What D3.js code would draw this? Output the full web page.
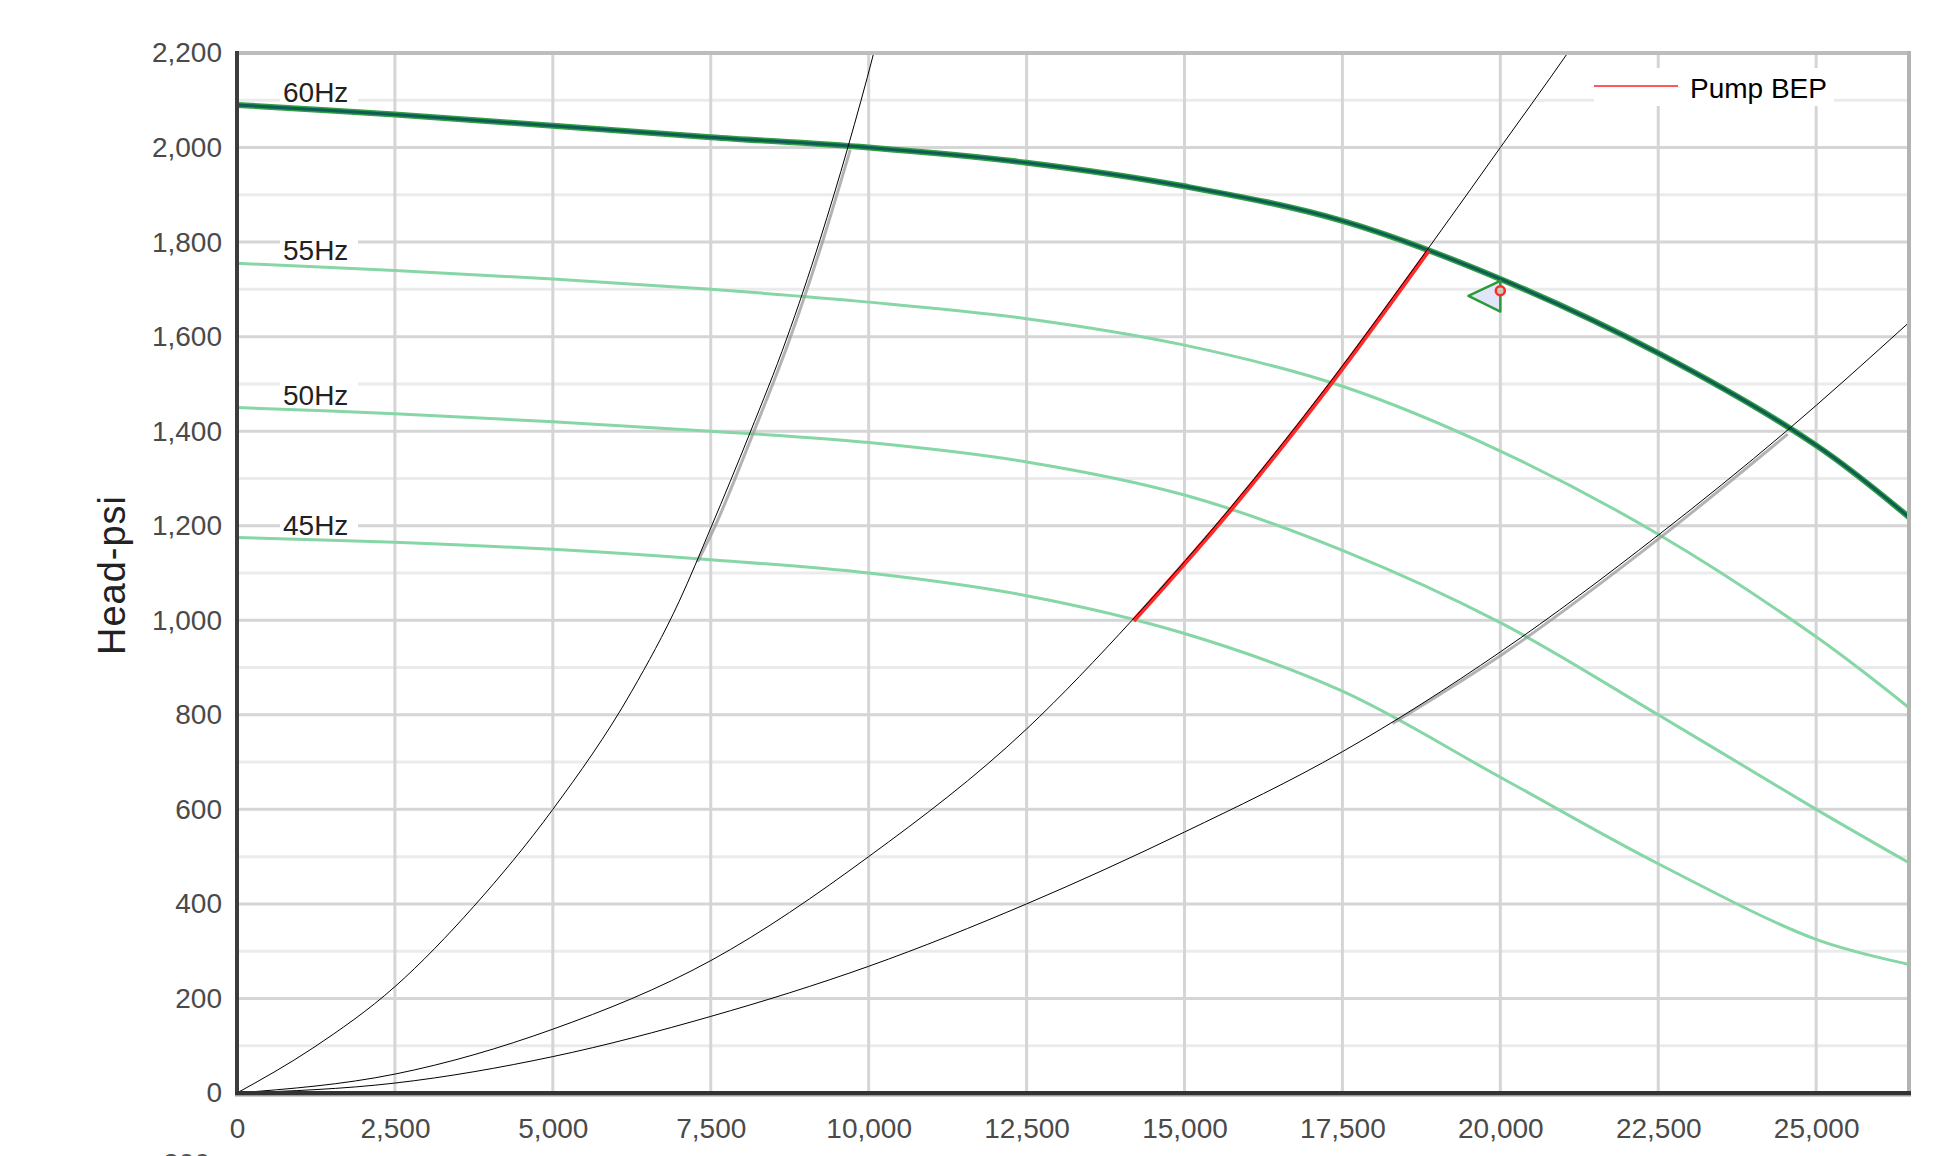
<!DOCTYPE html>
<html>
<head>
<meta charset="utf-8">
<title>Pump curves</title>
<script src="https://cdn.jsdelivr.net/npm/d3@7"></script>
<style>
  body { margin: 0; background: #fff; }
  svg { display: block; font-family: "Liberation Sans", Arial, sans-serif; }
</style>
</head>
<body>
<div id="chart"></div>
<script>
// axis ticks
const flowTicks = [0, 2500, 5000, 7500, 10000, 12500, 15000, 17500, 20000, 22500, 25000];
const headTicks = [0, 200, 400, 600, 800, 1000, 1200, 1400, 1600, 1800, 2000, 2200];
const headMinor = [100, 300, 500, 700, 900, 1100, 1300, 1500, 1700, 1900, 2100];
const flowMax = 26470, headMax = 2200;

// pump curves [flow, head]
const speedLabels = ['60Hz', '55Hz', '50Hz', '45Hz'];
const pump60 = [[0,2090],[2500,2070],[5000,2046],[7500,2022],[10000,2000],[12500,1968],[15000,1918],
  [17500,1845],[20000,1722],[22500,1565],[25000,1370],[26470,1218]];
const pump55 = [[0,1755],[2500,1740],[5000,1722],[7500,1700],[10000,1673],[12500,1638],[15000,1582],
  [17500,1495],[20000,1358],[22500,1182],[25000,965],[26470,815]];
const pump50 = [[0,1450],[2500,1437],[5000,1420],[7500,1400],[10000,1376],[12500,1335],[15000,1265],
  [17500,1148],[20000,995],[22500,800],[25000,600],[26470,487]];
const pump45 = [[0,1175],[2500,1165],[5000,1150],[7500,1128],[10000,1100],[12500,1052],[15000,972],
  [17500,850],[20000,668],[22500,485],[25000,325],[26470,272]];

// system curves
const systemSteep = [[0,0],[1200,95],[2500,225],[3750,395],[5000,600],[6250,850],[7000,1040],[7500,1195],
  [8120,1396],[8700,1595],[9230,1805],[9670,2000],[10080,2200],[10250,2290]];
const systemMid = [[0,0],[2500,40],[5000,135],[7500,280],[10000,500],[12500,770],[14170,1000],
  [15722,1237],[17274,1498],[18840,1783],[20000,2000],[21066,2200],[21400,2265]];
const systemLow = [[0,0],[2500,21],[5000,77],[7500,162],[10000,268],[12500,400],[15000,552],[17500,722],
  [20000,933],[22500,1180],[24510,1398],[26470,1630]];

// highlighted ranges on the system curves
const bepRange = [[14170,1000],[15722,1237],[17274,1498],[18840,1783]];
const steepRange = [[7251,1128],[7500,1195],[8120,1396],[8700,1595],[9230,1805],[9670,2000]];
const lowRange = [[18255,786],[20000,933],[22500,1180],[24510,1398]];

const bepPoint = [20000, 1697];
const bepTriangle = [[19495,1686],[20000,1718],[20000,1653]];
const legendLabel = 'Pump BEP';
const headLabel = 'Head-psi';

const width = 1946, height = 1156;
const margin = [53, 63, 237, 37]; // top, bottom, left, right
const cw = width - margin[2] - margin[3], ch = height - margin[0] - margin[1];

const svg = d3.select('#chart').append('svg')
    .attr('width', width).attr('height', height);
const chart = svg.append('g')
    .attr('transform', `translate(${margin[2]},${margin[0]})`);

const scaleX = d3.scaleLinear([0, flowMax], [0, cw]);
const scaleY = d3.scaleLinear([0, headMax], [ch, 0]);

chart.append('clipPath').attr('id', 'plot')
    .append('rect').attr('width', cw).attr('height', ch);

// grid
chart.selectAll('line.minor').data(headMinor).join('line')
    .attr('x1', 0).attr('x2', cw)
    .attr('y1', d => scaleY(d)).attr('y2', d => scaleY(d))
    .attr('stroke', '#ebebeb').attr('stroke-width', 3);
chart.selectAll('line.gridy').data(headTicks.slice(1, -1)).join('line')
    .attr('x1', 0).attr('x2', cw)
    .attr('y1', d => scaleY(d)).attr('y2', d => scaleY(d))
    .attr('stroke', '#d5d5d5').attr('stroke-width', 3);
chart.selectAll('line.gridx').data(flowTicks.slice(1)).join('line')
    .attr('y1', 0).attr('y2', ch)
    .attr('x1', d => scaleX(d)).attr('x2', d => scaleX(d))
    .attr('stroke', '#d5d5d5').attr('stroke-width', 3);

// axes
const axisY = chart.append('g')
    .call(d3.axisLeft(scaleY).tickValues(headTicks).tickFormat(d3.format(',')).tickSize(0).tickPadding(15));
const axisX = chart.append('g')
    .attr('transform', `translate(0,${ch})`)
    .call(d3.axisBottom(scaleX).tickValues(flowTicks).tickFormat(d3.format(',')).tickSize(0).tickPadding(25));
[axisX, axisY].forEach(a => {
    a.select('.domain').remove();
    a.selectAll('text').attr('font-size', 28).attr('fill', '#4a4a4a')
        .attr('font-family', '"Liberation Sans", Arial, sans-serif');
});

// speed labels
const pumps = [pump60, pump55, pump50, pump45];
const labels = chart.selectAll('g.speed').data(pumps).join('g')
    .attr('transform', d => `translate(46,${scaleY(d[0][1]) - 3})`);
labels.append('rect').attr('x', -3).attr('y', -24).attr('width', 78).attr('height', 28).attr('fill', '#fff');
labels.append('text').text((d, i) => speedLabels[i])
    .attr('font-size', 28).attr('fill', '#222');

const line = d3.line().x(d => scaleX(d[0])).y(d => scaleY(d[1])).curve(d3.curveMonotoneX);
const smooth = d3.line().x(d => scaleX(d[0])).y(d => scaleY(d[1])).curve(d3.curveCatmullRom.alpha(0.5));
const plot = chart.append('g').attr('clip-path', 'url(#plot)');

// pump curves
plot.selectAll('path.pump').data(pumps.slice(1)).join('path')
    .attr('d', smooth).attr('fill', 'none')
    .attr('stroke', '#86d6a6').attr('stroke-width', 3);
plot.append('path').attr('d', smooth(pump60)).attr('fill', 'none')
    .attr('stroke', '#2f9e44').attr('stroke-width', 6);
plot.append('path').attr('d', smooth(pump60)).attr('fill', 'none')
    .attr('stroke', '#0f5c55').attr('stroke-width', 3);

// highlighted ranges
plot.selectAll('path.range').data([steepRange, lowRange]).join('path')
    .attr('d', line).attr('fill', 'none')
    .attr('transform', 'translate(2.5,2)')
    .attr('stroke', '#9a9a9a').attr('stroke-width', 3).attr('opacity', 0.75);
plot.append('path').attr('d', line(bepRange)).attr('fill', 'none')
    .attr('transform', 'translate(1.5,0.5)')
    .attr('stroke', '#ff2b2b').attr('stroke-width', 4.5);

// system curves
plot.selectAll('path.system').data([systemSteep, systemMid, systemLow]).join('path')
    .attr('d', line).attr('fill', 'none')
    .attr('stroke', '#000').attr('stroke-width', 1);

// BEP marker
plot.append('path')
    .attr('d', 'M' + bepTriangle.map(d => [scaleX(d[0]), scaleY(d[1])].join(',')).join('L') + 'Z')
    .attr('fill', '#e2e4f8').attr('stroke', '#2a9a3a').attr('stroke-width', 2.5).attr('stroke-linejoin', 'round');
plot.append('circle')
    .attr('cx', scaleX(bepPoint[0])).attr('cy', scaleY(bepPoint[1])).attr('r', 4.5)
    .attr('fill', '#c9cbb8').attr('stroke', '#ff2b2b').attr('stroke-width', 2.5);

// frame
chart.append('line').attr('x1', 0).attr('x2', cw).attr('y1', 0).attr('y2', 0)
    .attr('stroke', '#bdbdbd').attr('stroke-width', 4);
chart.append('line').attr('x1', cw).attr('x2', cw).attr('y1', -2).attr('y2', ch)
    .attr('stroke', '#b3b3b3').attr('stroke-width', 4);
chart.append('line').attr('x1', 0).attr('x2', 0).attr('y1', -2).attr('y2', ch)
    .attr('stroke', '#3c3c3c').attr('stroke-width', 4);
chart.append('line').attr('x1', -2).attr('x2', cw + 2).attr('y1', ch + 1.5).attr('y2', ch + 1.5)
    .attr('stroke', '#9a9a9a').attr('stroke-width', 4);
chart.append('line').attr('x1', -2).attr('x2', cw + 2).attr('y1', ch).attr('y2', ch)
    .attr('stroke', '#333').attr('stroke-width', 4);

// legend
const legend = chart.append('g').attr('transform', `translate(${cw - 315},33)`);
legend.append('rect').attr('x', 0).attr('y', -18).attr('width', 240).attr('height', 38).attr('fill', '#fff');
legend.append('line').attr('x1', 0).attr('x2', 84).attr('y1', 0).attr('y2', 0)
    .attr('stroke', '#ff2020').attr('stroke-width', 1.5);
legend.append('text').attr('x', 96).attr('y', 12).text(legendLabel)
    .attr('font-size', 28).attr('fill', '#000');

// axis title
svg.append('text')
    .attr('transform', `translate(125,${margin[0] + ch / 2 + 2})rotate(-90)`)
    .attr('text-anchor', 'middle').attr('font-size', 38).attr('letter-spacing', 1)
    .attr('fill', '#222').text(headLabel);

// label of a chart below, cut by the page edge as in the reference
svg.append('text').attr('x', 210).attr('y', 1173).attr('text-anchor', 'end')
    .attr('font-size', 28).attr('fill', '#555').text('300');
</script>
</body>
</html>
